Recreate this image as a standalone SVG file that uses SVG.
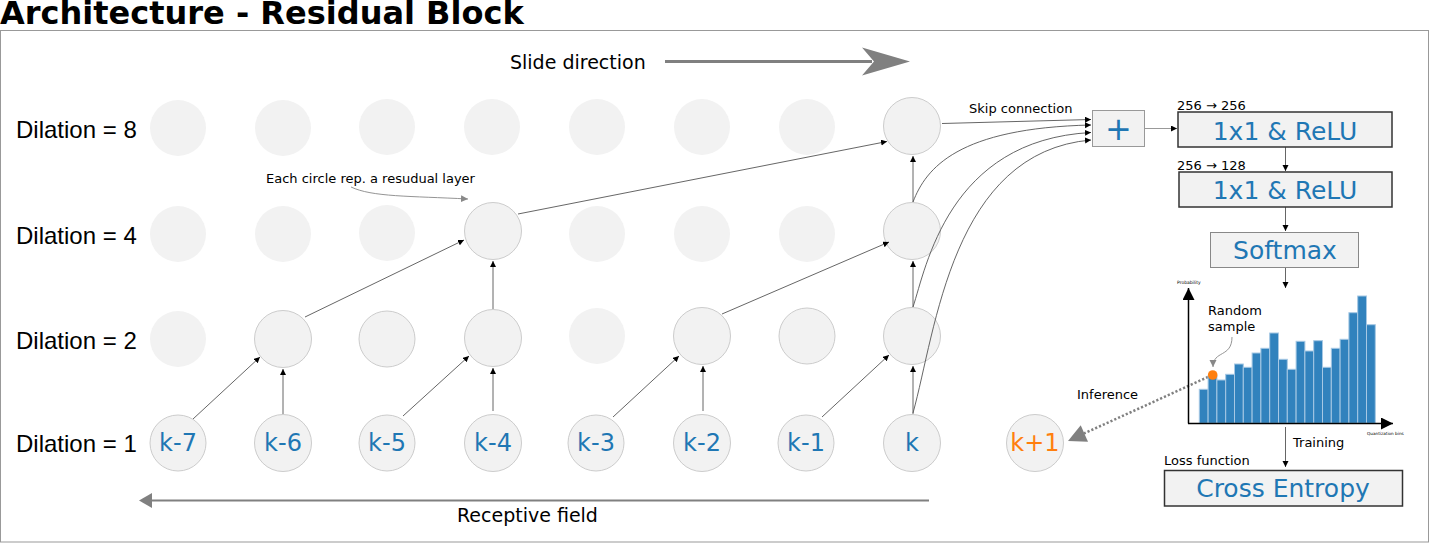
<svg xmlns="http://www.w3.org/2000/svg" width="1430" height="543" viewBox="0 0 1430 543">
<style>
.dj{font-family:"DejaVu Sans","Noto Sans",sans-serif}
.lib{font-family:"Liberation Sans",Arial,sans-serif}
.c{fill:#f2f2f2}
.cs{fill:#f2f2f2;stroke:#cccccc;stroke-width:1}
.k{font-family:"DejaVu Sans",sans-serif;font-size:24px;fill:#1f77b4;text-anchor:middle}
.dl{font-family:"Liberation Sans",Arial,sans-serif;font-size:24px;fill:#000}
.cn{fill:none;stroke:#555;stroke-width:0.9}
.sm{font-family:"DejaVu Sans",sans-serif;font-size:13px;fill:#000}
.bx{font-family:"DejaVu Sans",sans-serif;font-size:25px;fill:#1f77b4;text-anchor:middle}
.bar{fill:#3182bd;stroke:#a6c8e4;stroke-width:1}
</style>
<defs>
<marker id="ah" markerUnits="userSpaceOnUse" markerWidth="8" markerHeight="8" refX="6" refY="3" orient="auto">
<path d="M0,0 L6,3 L0,6 z" fill="#000"/>
</marker>
<marker id="ahg" markerUnits="userSpaceOnUse" markerWidth="10" markerHeight="10" refX="7" refY="3.5" orient="auto">
<path d="M0,0 L7,3.5 L0,7 z" fill="#888"/>
</marker>
<marker id="axh" markerUnits="userSpaceOnUse" markerWidth="14" markerHeight="14" refX="12" refY="6" orient="auto">
<path d="M0,0 L12,6 L0,12 z" fill="#000"/>
</marker>
</defs>

<rect width="1430" height="543" fill="#fff"/>
<text x="0" y="24" class="dj" font-size="32" font-weight="bold" fill="#000">Architecture - Residual Block</text>
<rect x="0.5" y="30.5" width="1428" height="511.5" fill="none" stroke="#999" stroke-width="1"/>

<g id="slide-direction">
<text x="510" y="69" class="dj" font-size="19" fill="#000">Slide direction</text>
<line x1="665" y1="61.5" x2="872" y2="61.5" stroke="#808080" stroke-width="3"/>
<path d="M862,47.5 L910,61.5 L862,75.5 L874,61.5 z" fill="#808080"/>
</g>

<g id="receptive-field">
<line x1="150" y1="500.5" x2="929" y2="500.5" stroke="#808080" stroke-width="2"/>
<path d="M139,500.5 L152,493 L152,508 z" fill="#808080"/>
<text x="457" y="522" class="dj" font-size="19" fill="#000">Receptive field</text>
</g>

<g id="dilation-labels">
<text x="16" y="138" class="dl">Dilation = 8</text>
<text x="16" y="244" class="dl">Dilation = 4</text>
<text x="16" y="349" class="dl">Dilation = 2</text>
<text x="16" y="452" class="dl">Dilation = 1</text>
</g>

<g id="row8">
<circle class="c" cx="178" cy="128" r="28"/>
<circle class="c" cx="283" cy="128" r="28"/>
<circle class="c" cx="387" cy="127" r="28"/>
<circle class="c" cx="492" cy="127" r="28"/>
<circle class="c" cx="597" cy="127" r="28"/>
<circle class="c" cx="702" cy="127" r="28"/>
<circle class="c" cx="807" cy="127" r="28"/>
<g id="n8-k"><circle class="cs" cx="912" cy="126" r="28.5"/></g>
</g>

<g id="row4">
<circle class="c" cx="178" cy="234" r="28"/>
<circle class="c" cx="283" cy="234" r="28"/>
<circle class="c" cx="387" cy="233" r="28"/>
<g id="n4-k4"><circle class="cs" cx="493" cy="231" r="28.5"/></g>
<circle class="c" cx="597" cy="234" r="28"/>
<circle class="c" cx="702" cy="234" r="28"/>
<circle class="c" cx="807" cy="234" r="28"/>
<g id="n4-k"><circle class="cs" cx="912" cy="231" r="28.5"/></g>
</g>

<g id="row2">
<circle class="c" cx="178" cy="339" r="28"/>
<g id="n2-k6"><circle class="cs" cx="283" cy="339" r="28.5"/></g>
<g id="n2-k5"><circle class="cs" cx="387" cy="339" r="28"/></g>
<g id="n2-k4"><circle class="cs" cx="493" cy="338" r="28.5"/></g>
<circle class="c" cx="597" cy="336" r="28"/>
<g id="n2-k2"><circle class="cs" cx="702" cy="336" r="28.5"/></g>
<g id="n2-k1"><circle class="cs" cx="807" cy="336" r="28"/></g>
<g id="n2-k"><circle class="cs" cx="912" cy="336" r="28.5"/></g>
</g>

<g id="row1">
<g id="n1-k7"><circle class="cs" cx="178" cy="443" r="28"/><text class="k" x="178" y="451">k-7</text></g>
<g id="n1-k6"><circle class="cs" cx="283" cy="443" r="28.5"/><text class="k" x="283" y="451">k-6</text></g>
<g id="n1-k5"><circle class="cs" cx="387" cy="443" r="28"/><text class="k" x="387" y="451">k-5</text></g>
<g id="n1-k4"><circle class="cs" cx="493" cy="443" r="28.5"/><text class="k" x="493" y="451">k-4</text></g>
<g id="n1-k3"><circle class="cs" cx="596" cy="443" r="28"/><text class="k" x="596" y="451">k-3</text></g>
<g id="n1-k2"><circle class="cs" cx="702" cy="443" r="28.5"/><text class="k" x="702" y="451">k-2</text></g>
<g id="n1-k1"><circle class="cs" cx="806" cy="443" r="28"/><text class="k" x="806" y="451">k-1</text></g>
<g id="n1-k"><circle class="cs" cx="912" cy="443" r="28.5"/><text class="k" x="912" y="451">k</text></g>
<g id="n1-kp1"><circle class="cs" cx="1035" cy="443" r="28.5"/><text class="k" x="1035" y="451" fill="#ff7f0e" style="fill:#ff7f0e">k+1</text></g>
</g>

<g id="connectors">
<!-- row1 -> row2 -->
<line class="cn" x1="193" y1="419" x2="260" y2="357" marker-end="url(#ah)"/>
<line class="cn" x1="283" y1="414" x2="283" y2="369" marker-end="url(#ah)"/>
<line class="cn" x1="403" y1="416" x2="469" y2="356" marker-end="url(#ah)"/>
<line class="cn" x1="493" y1="411" x2="493" y2="368" marker-end="url(#ah)"/>
<line class="cn" x1="613" y1="417" x2="679" y2="356" marker-end="url(#ah)"/>
<line class="cn" x1="703" y1="411" x2="703" y2="366" marker-end="url(#ah)"/>
<line class="cn" x1="822" y1="417" x2="889" y2="355" marker-end="url(#ah)"/>
<line class="cn" x1="913" y1="414" x2="913" y2="366" marker-end="url(#ah)"/>
<!-- row2 -> row4 -->
<line class="cn" x1="305" y1="317" x2="464" y2="240" marker-end="url(#ah)"/>
<line class="cn" x1="493" y1="309" x2="493" y2="261" marker-end="url(#ah)"/>
<line class="cn" x1="722" y1="314" x2="889" y2="242" marker-end="url(#ah)"/>
<line class="cn" x1="913" y1="307" x2="913" y2="261" marker-end="url(#ah)"/>
<!-- row4 -> row8 -->
<line class="cn" x1="518" y1="214" x2="887" y2="141.5" marker-end="url(#ah)"/>
<line class="cn" x1="913" y1="202" x2="913" y2="156" marker-end="url(#ah)"/>
<!-- skip connections -->
<path class="cn" d="M942,123.5 L1091,119.5" marker-end="url(#ah)"/>
<path class="cn" d="M913,202 C926,168 958,128 1091,125" marker-end="url(#ah)"/>
<path class="cn" d="M913,307 C926,268 948,140 1091,132.5" marker-end="url(#ah)"/>
<path class="cn" d="M913,413 C936,330 952,152 1091,140" marker-end="url(#ah)"/>
<!-- plus -> box1 -->
<line x1="1144" y1="128.5" x2="1177" y2="128.5" stroke="#999" stroke-width="1.2" marker-end="url(#ah)"/>
<line class="cn" x1="1285.5" y1="147" x2="1285.5" y2="171" marker-end="url(#ah)"/>
<line class="cn" x1="1285.5" y1="207" x2="1285.5" y2="231" marker-end="url(#ah)"/>
<line class="cn" x1="1285.5" y1="267" x2="1285.5" y2="288" marker-end="url(#ah)"/>
<line class="cn" x1="1285.5" y1="427" x2="1285.5" y2="467" marker-end="url(#ah)"/>
<!-- annotation arrows -->
<path d="M351,187 C372,197 410,196 468,199" fill="none" stroke="#888" stroke-width="0.9" marker-end="url(#ahg)"/>
<path d="M1232,337 C1232,358 1213,350 1213,367" fill="none" stroke="#888" stroke-width="0.9" marker-end="url(#ahg)"/>
<!-- inference dotted -->
<line x1="1208" y1="377" x2="1084" y2="433.5" stroke="#808080" stroke-width="2.5" stroke-dasharray="2.2,2"/>
<path d="M1068,441 L1088,441.7 L1080.7,425.3 z" fill="#808080"/>
</g>

<text x="266" y="183" class="sm">Each circle rep. a resudual layer</text>
<text x="969" y="113" class="sm">Skip connection</text>

<g id="plus">
<rect x="1092.5" y="110.5" width="52" height="36" fill="#f2f2f2" stroke="#999" stroke-width="1"/>
<text x="1118.5" y="140" class="dj" font-size="32" fill="#1f77b4" text-anchor="middle">+</text>
</g>

<g id="relu1">
<text x="1177" y="110" class="sm">256 → 256</text>
<rect x="1178" y="112" width="214" height="35" fill="#f2f2f2" stroke="#333" stroke-width="1.5"/>
<text x="1285" y="140" class="bx">1x1 &amp; ReLU</text>
</g>

<g id="relu2">
<text x="1177" y="170" class="sm">256 → 128</text>
<rect x="1179" y="172" width="213" height="35" fill="#f2f2f2" stroke="#333" stroke-width="1.5"/>
<text x="1285" y="199" class="bx">1x1 &amp; ReLU</text>
</g>

<g id="softmax">
<rect x="1210.5" y="232.5" width="148" height="35" fill="#f2f2f2" stroke="#888" stroke-width="1"/>
<text x="1285" y="259" class="bx">Softmax</text>
</g>

<g id="histogram">
<rect class="bar" x="1199.3" y="389.3" width="8.8" height="34"/>
<rect class="bar" x="1208.1" y="376" width="8.8" height="47.3"/>
<rect class="bar" x="1216.9" y="380" width="8.8" height="43.3"/>
<rect class="bar" x="1225.7" y="374.3" width="8.8" height="49"/>
<rect class="bar" x="1234.5" y="364" width="8.8" height="59.3"/>
<rect class="bar" x="1243.3" y="367.3" width="8.8" height="56"/>
<rect class="bar" x="1252.1" y="353" width="8.8" height="70.3"/>
<rect class="bar" x="1260.9" y="348.3" width="8.8" height="75"/>
<rect class="bar" x="1269.7" y="333" width="8.8" height="90.3"/>
<rect class="bar" x="1278.5" y="359.3" width="8.8" height="64"/>
<rect class="bar" x="1287.3" y="369.3" width="8.8" height="54"/>
<rect class="bar" x="1296.1" y="341.3" width="8.8" height="82"/>
<rect class="bar" x="1304.9" y="351" width="8.8" height="72.3"/>
<rect class="bar" x="1313.7" y="340.7" width="8.8" height="82.6"/>
<rect class="bar" x="1322.5" y="367.3" width="8.8" height="56"/>
<rect class="bar" x="1331.3" y="348.3" width="8.8" height="75"/>
<rect class="bar" x="1340.1" y="339.3" width="8.8" height="84"/>
<rect class="bar" x="1348.9" y="312.7" width="8.8" height="110.6"/>
<rect class="bar" x="1357.7" y="296" width="8.8" height="127.3"/>
<rect class="bar" x="1366.5" y="324.7" width="8.8" height="98.6"/>
<line x1="1188.5" y1="423.5" x2="1188.5" y2="288" stroke="#000" stroke-width="1.5" marker-end="url(#axh)"/>
<line x1="1188" y1="423.5" x2="1393" y2="423.5" stroke="#000" stroke-width="1.5" marker-end="url(#axh)"/>
<text x="1177" y="283.5" class="dj" font-size="4.5" fill="#000">Probability</text>
<text x="1367" y="435" class="dj" font-size="4.2" fill="#000">Quantization bins</text>
<circle cx="1212.7" cy="375" r="4.8" fill="#ff7f0e"/>
<text x="1208" y="315" class="sm">Random</text>
<text x="1208" y="331" class="sm">sample</text>
</g>

<text x="1077" y="399" class="sm">Inference</text>
<text x="1293" y="447" class="sm">Training</text>

<g id="cross-entropy">
<text x="1164" y="465" class="sm">Loss function</text>
<rect x="1164.5" y="470.5" width="238" height="35.5" fill="#f2f2f2" stroke="#333" stroke-width="1.5"/>
<text x="1283" y="497" class="bx">Cross Entropy</text>
</g>
</svg>
